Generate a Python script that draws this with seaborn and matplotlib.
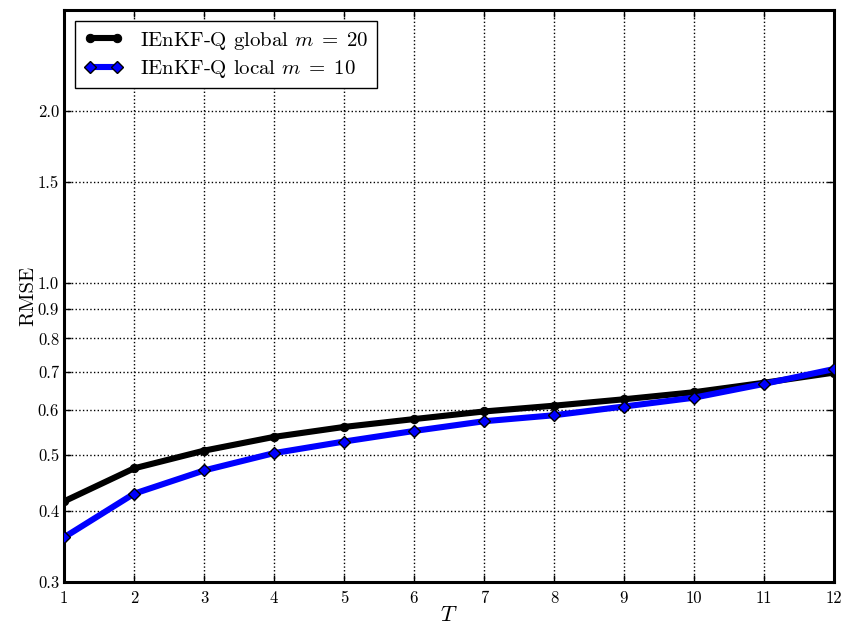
import matplotlib
matplotlib.use("Agg")
import matplotlib.pyplot as plt
import seaborn as sns
import numpy as np

# RMSE vs window length T
T = [1, 2, 3, 4, 5, 6, 7, 8, 9, 10, 11, 12]
rmse_global = [0.415, 0.474, 0.509, 0.538, 0.560, 0.578, 0.596, 0.610, 0.626, 0.644, 0.669, 0.697]
rmse_local = [0.359, 0.428, 0.470, 0.504, 0.528, 0.551, 0.573, 0.587, 0.608, 0.630, 0.666, 0.707]
ytick_vals = [0.3, 0.4, 0.5, 0.6, 0.7, 0.8, 0.9, 1.0, 1.5, 2.0]
ytick_labels = ['0.3', '0.4', '0.5', '0.6', '0.7', '0.8', '0.9', '1.0', '1.5', '2.0']

plt.rcParams['font.family'] = ['cmr10', 'DejaVu Serif']
plt.rcParams['mathtext.fontset'] = 'cm'
plt.rcParams['axes.formatter.use_mathtext'] = True

fig = plt.figure(figsize=(8.42, 6.25), dpi=100)
ax = fig.add_axes([0.076, 0.0688, 0.9145, 0.9152])

sns.lineplot(x=T, y=rmse_global, ax=ax, color='black', linewidth=4.4,
             marker='o', markersize=6, markeredgecolor='black',
             label='IEnKF-Q global $m\\;=\\;20$', zorder=3)
sns.lineplot(x=T, y=rmse_local, ax=ax, color='blue', linewidth=4.4,
             marker='D', markersize=6, markeredgecolor='black', markeredgewidth=1,
             label='IEnKF-Q local $m\\;=\\;10$', zorder=4)

ax.set_yscale('log')
ax.set_ylim(0.3, 3.0)
ax.set_xlim(1, 12)
ax.set_xticks(T)
ax.set_xticklabels([str(t) for t in T])
ax.yaxis.set_minor_locator(matplotlib.ticker.NullLocator())
ax.set_yticks(ytick_vals)
ax.set_yticklabels(ytick_labels)

ax.grid(True, color='black', linestyle=':', linewidth=1)
ax.tick_params(direction='in', top=True, right=True, length=5, width=1, labelsize=12)
ax.tick_params(axis='x', pad=6)
for s in ax.spines.values():
    s.set_linewidth(2.2)

ax.set_xlabel('$T$', fontsize=16, labelpad=0)
ax.set_ylabel('RMSE', fontsize=15, labelpad=0)

leg = ax.legend(loc='upper left', numpoints=2, fontsize=15, fancybox=False,
                framealpha=1, edgecolor='black', borderaxespad=0.55,
                handlelength=1.9, handletextpad=0.8, labelspacing=0.3)
leg.get_frame().set_linewidth(1)

fig.savefig('out.png', dpi=100)
